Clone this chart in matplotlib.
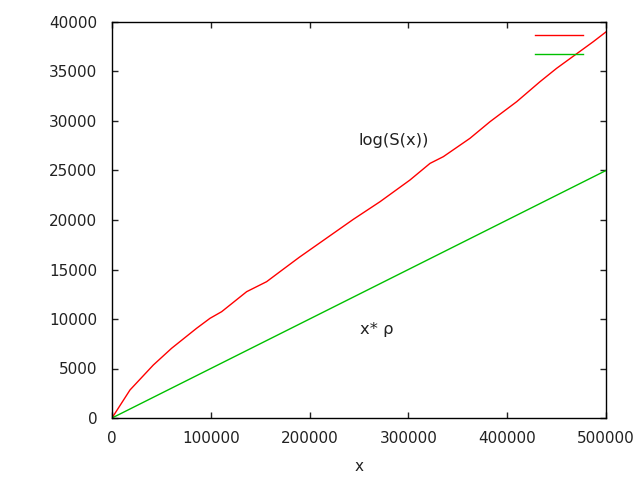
import matplotlib
matplotlib.use("Agg")
import matplotlib.pyplot as plt

# red curve
x_log = [0, 18200, 41800, 60300, 85600, 99200, 111000, 119400, 136300, 156500,
         170000, 189500, 244300, 271300, 301600, 321900, 335400, 362300, 382600,
         409600, 433200, 450000, 487100, 500000]
y_log = [0, 2830, 5350, 7040, 9060, 10070, 10740, 11410, 12760, 13770,
         14780, 16230, 20070, 21850, 24040, 25720, 26400, 28250, 29930,
         31950, 33970, 35320, 38010, 39000]

# green line x*rho
x_rho = [0, 500000]
y_rho = [0, 25000]

xticks = [0, 100000, 200000, 300000, 400000, 500000]
yticks = list(range(0, 40001, 5000))

plt.rcParams['font.family'] = 'DejaVu Sans'
fig = plt.figure(figsize=(6.4, 4.8), dpi=100)
ax = fig.add_axes([112/640, 62/480, 494/640, 396/480])

l1, = ax.plot(x_log, y_log, color='#ff0000', lw=1)
l2, = ax.plot(x_rho, y_rho, color='#00c000', lw=1)

ax.set_xlim(0, 500000)
ax.set_ylim(0, 40000)
ax.set_xticks(xticks)
ax.set_yticks(yticks)
ax.set_xticklabels([str(t) for t in xticks])
ax.set_yticklabels([str(t) for t in yticks])
ax.tick_params(direction='in', length=4.5, width=1, top=True, right=True,
               labelsize=11, colors='#222222')
ax.tick_params(axis='x', pad=9.5)
ax.tick_params(axis='y', pad=10.5)
for s in ax.spines.values():
    s.set_linewidth(1)
ax.set_xlabel('x', fontsize=11, labelpad=9, color='#222222')

ax.text(249000, 27980, 'log(S(x))', fontsize=11.8, ha='left', va='center', color='#222222')
ax.text(251000, 8890, 'x* ρ', fontsize=11.8, ha='left', va='center', color='#222222')

ax.legend([l1, l2], [' ', ' '], loc='upper right', frameon=False,
          handlelength=3.15, handletextpad=0.2, labelspacing=0.22,
          fontsize=11, bbox_to_anchor=(0.992, 1.010), borderaxespad=0.3)

fig.savefig('out.png', dpi=100)
